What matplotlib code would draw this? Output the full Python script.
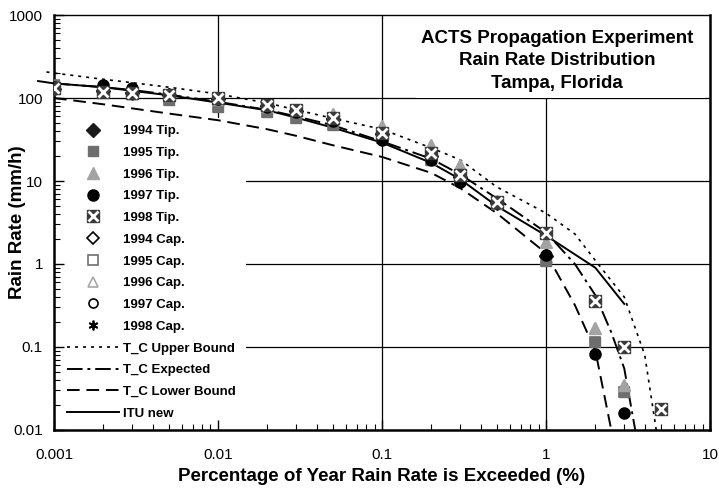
import matplotlib
matplotlib.use("Agg")
import matplotlib.pyplot as plt
from matplotlib.patches import Rectangle
from matplotlib.ticker import FixedLocator, LogLocator, NullFormatter, FixedFormatter

plt.rcParams['font.family'] = ['Liberation Sans', 'DejaVu Sans']

# percentage of year (x) for the measured points
pct = [0.001, 0.002, 0.003, 0.005, 0.01, 0.02, 0.03, 0.05, 0.1, 0.2, 0.3, 0.5, 1, 2, 3, 5]

# measured rain rates (mm/h), tipping bucket
tip_1994 = [130, 120, 114, 108, 98, 80, 70, 56, 37, 20, 11.2, 5.5, 1.25]
tip_1995 = [145, 120, 112, 94, 78, 68, 57, 47, 33, 18, 10.2, 5.3, 1.1, 0.115, 0.029]
tip_1996 = [132, 120, 115, 110, 98, 80, 72, 64, 46, 27, 15.5, 5.8, 1.84, 0.17, 0.035]
tip_1997 = [135, 143, 132, 110, 98, 78, 68, 53, 31, 18, 9.7, 5.4, 1.28, 0.082, 0.016]
tip_1998 = [132, 118, 114, 109, 100, 82, 72, 57, 38, 21.7, 11.8, 5.6, 2.36, 0.36, 0.1, 0.018]

# capacitance gauge (hidden under the tipping bucket points)
cap_1994 = tip_1994
cap_1995 = tip_1995
cap_1996 = tip_1996
cap_1997 = tip_1997
cap_1998 = tip_1998

# model curves
up_x = [0.0009, 0.001, 0.002, 0.003, 0.005, 0.01, 0.02, 0.03, 0.05, 0.1, 0.2, 0.3, 0.5, 1, 1.5, 2, 3, 4, 4.7]
up_y = [206, 200, 168, 153, 135, 112, 87, 72, 57, 42, 25, 18, 8.5, 4.1, 2.3, 1.1, 0.4, 0.08, 0.01]
exp_x = [0.001, 0.002, 0.003, 0.005, 0.01, 0.02, 0.03, 0.05, 0.1, 0.2, 0.3, 0.5, 1, 1.5, 2, 2.5, 3, 3.5]
exp_y = [150, 135, 125, 110, 90, 72, 60, 47, 30, 18.5, 12, 6.2, 2.4, 1.0, 0.42, 0.15, 0.055, 0.01]
low_x = [0.001, 0.002, 0.003, 0.005, 0.01, 0.02, 0.03, 0.05, 0.1, 0.2, 0.3, 0.5, 1, 1.5, 2, 2.5]
low_y = [100, 84, 75, 65, 54, 42, 35, 27, 19.5, 12.5, 8.2, 4.1, 1.35, 0.32, 0.09, 0.01]
itu_x = [0.0008, 0.001, 0.002, 0.003, 0.005, 0.01, 0.02, 0.03, 0.05, 0.1, 0.2, 0.3, 0.5, 1, 2, 3]
itu_y = [160, 150, 135, 122, 108, 88, 71, 58, 44, 29, 16.5, 10.5, 5.0, 2.2, 0.9, 0.33]

xticks = [0.001, 0.01, 0.1, 1, 10]
xlabels = ['0.001', '0.01', '0.1', '1', '10']
yticks = [0.01, 0.1, 1, 10, 100, 1000]
ylabels = ['0.01', '0.1', '1', '10', '100', '1000']

fig = plt.figure(figsize=(7.19, 4.94), dpi=100)
ax = fig.add_axes([0.0751, 0.1296, 0.9124, 0.8400])
ax.set_xscale('log')
ax.set_yscale('log')
ax.set_xlim(0.001, 10)
ax.set_ylim(0.01, 1000)

# grid at the decades only
for v in xticks[1:-1]:
    ax.axvline(v, color='black', lw=0.9, zorder=0.5)
for v in yticks[1:-1]:
    ax.axhline(v, color='black', lw=0.9, zorder=0.5)

# white boxes behind the legend and the title
ax.add_patch(Rectangle((0, 0), 0.293, 0.752, transform=ax.transAxes,
                       facecolor='white', edgecolor='none', zorder=0.8))
ax.add_patch(Rectangle((0.552, 0.80), 0.44, 0.2, transform=ax.transAxes,
                       facecolor='white', edgecolor='none', zorder=0.8))

# model curves
l_up, = ax.plot(up_x, up_y, color='black', lw=1.2, dashes=(1.8, 3), clip_on=False, zorder=2)
l_exp, = ax.plot(exp_x, exp_y, color='black', lw=1.4, dashes=(8, 2.5, 1.5, 2.5), zorder=2)
l_low, = ax.plot(low_x, low_y, color='black', lw=1.4, dashes=(6.5, 3.5), zorder=2)
l_itu, = ax.plot(itu_x, itu_y, color='black', lw=1.4, clip_on=False, zorder=2)

ms = 8
# capacitance data (open markers)
c94, = ax.plot(pct[:len(cap_1994)], cap_1994, 'D', ms=6, mfc='white', mec='black', mew=1.2, ls='none', zorder=3)
c95, = ax.plot(pct[:len(cap_1995)], cap_1995, 's', ms=6.5, mfc='white', mec='#707070', mew=1.2, ls='none', zorder=3)
c96, = ax.plot(pct[:len(cap_1996)], cap_1996, '^', ms=7, mfc='white', mec='#a8a8a8', mew=1.2, ls='none', zorder=3)
c97, = ax.plot(pct[:len(cap_1997)], cap_1997, 'o', ms=6.5, mfc='white', mec='black', mew=1.2, ls='none', zorder=3)
c98, = ax.plot(pct[:len(cap_1998)], cap_1998, marker=(6, 2, 0), ms=7, color='black', mew=1.3, ls='none', zorder=3)

# tipping bucket data (filled markers)
t94, = ax.plot(pct[:len(tip_1994)], tip_1994, 'D', ms=7, color='#1a1a1a', ls='none', zorder=4)
t95, = ax.plot(pct[:len(tip_1995)], tip_1995, 's', ms=ms - 0.5, color='#6e6e6e', ls='none', zorder=4)
t96, = ax.plot(pct[:len(tip_1996)], tip_1996, '^', ms=ms + 1, color='#a3a3a3', ls='none', zorder=4)
t97, = ax.plot(pct[:len(tip_1997)], tip_1997, 'o', ms=ms, color='black', ls='none', zorder=4)
t98a, = ax.plot(pct, tip_1998, 's', ms=ms, color='#3a3a3a', ls='none', zorder=5)
t98b, = ax.plot(pct, tip_1998, 'x', ms=ms - 0.5, color='white', mew=2.0, ls='none', zorder=6)

# ticks
ax.xaxis.set_major_locator(FixedLocator(xticks))
ax.xaxis.set_major_formatter(FixedFormatter(xlabels))
ax.yaxis.set_major_locator(FixedLocator(yticks))
ax.yaxis.set_major_formatter(FixedFormatter(ylabels))
ax.xaxis.set_minor_locator(LogLocator(base=10, subs=range(2, 10), numticks=20))
ax.yaxis.set_minor_locator(LogLocator(base=10, subs=range(2, 10), numticks=20))
ax.xaxis.set_minor_formatter(NullFormatter())
ax.yaxis.set_minor_formatter(NullFormatter())
ax.tick_params(which='major', direction='in', length=7, width=1, labelsize=11)
ax.tick_params(which='minor', direction='in', length=4, width=0.8)
ax.tick_params(axis='x', which='major', pad=13)
ax.tick_params(axis='y', which='major', pad=8)
for s in ['left', 'bottom', 'right']:
    ax.spines[s].set_linewidth(1.8)
ax.spines['top'].set_linewidth(1.0)

ax.set_xlabel('Percentage of Year Rain Rate is Exceeded (%)', fontsize=13.5, fontweight='bold')
ax.set_ylabel('Rain Rate (mm/h)', fontsize=13.5, fontweight='bold')
ax.xaxis.set_label_coords(0.5, -0.092)
ax.yaxis.set_label_coords(-0.043, 0.5)

ax.text(0.767, 0.965, 'ACTS Propagation Experiment\nRain Rate Distribution\nTampa, Florida',
        transform=ax.transAxes, ha='center', va='top', fontsize=13.5, fontweight='bold',
        linespacing=1.45, zorder=7)

handles = [t94, t95, t96, t97, (t98a, t98b), c94, c95, c96, c97, c98, l_up, l_exp, l_low, l_itu]
labels = ['1994 Tip.', '1995 Tip.', '1996 Tip.', '1997 Tip.', '1998 Tip.',
          '1994 Cap.', '1995 Cap.', '1996 Cap.', '1997 Cap.', '1998 Cap.',
          'T_C Upper Bound', 'T_C Expected', 'T_C Lower Bound', 'ITU new']
leg = ax.legend(handles, labels, loc='lower left', bbox_to_anchor=(0.012, 0.012),
                frameon=False, prop={'weight': 'bold', 'size': 9.5}, numpoints=1,
                handlelength=3.9, handletextpad=0.35, labelspacing=0.72, borderaxespad=0)
leg.set_zorder(7)

fig.savefig('out.png', dpi=100)
